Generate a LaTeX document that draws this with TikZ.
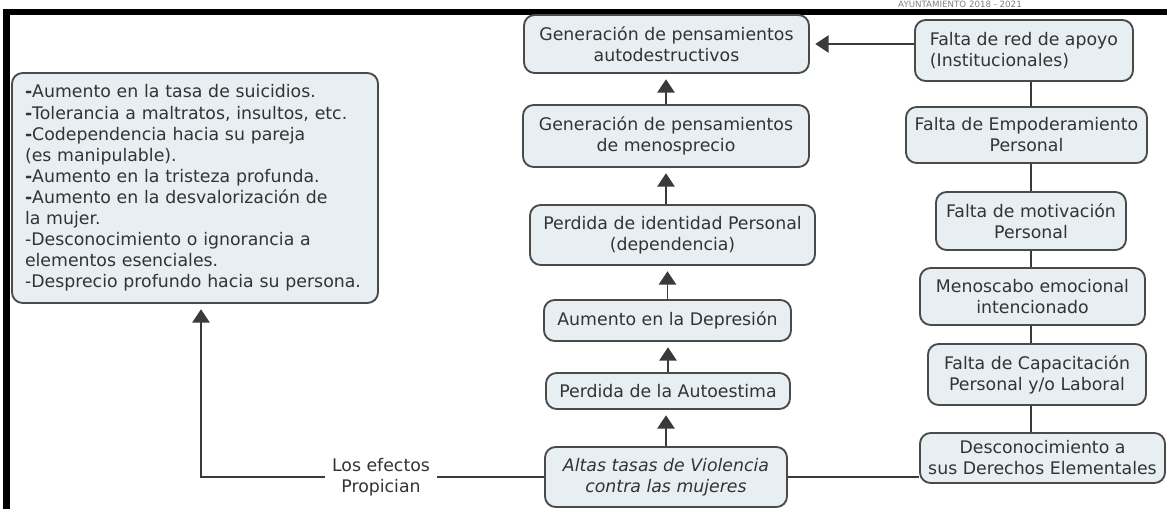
\documentclass[tikz,border=0pt]{standalone}
\usepackage{fontspec}
\setmainfont{DejaVu Sans}
\usetikzlibrary{arrows.meta}
\definecolor{boxfill}{HTML}{E8EFF2}
\definecolor{boxline}{HTML}{4A4A4A}
\definecolor{txt}{HTML}{333333}
\definecolor{connc}{HTML}{3A3A3A}
\newcommand{\bh}{{\bfseries -}}
\begin{document}
\begin{tikzpicture}[x=0.75pt,y=-0.75pt,
  cbox/.style={draw=boxline, line width=1.4pt, fill=boxfill, rounded corners=8pt,
    align=center, text=txt, font=\fontsize{13}{15.8}\selectfont, inner sep=0pt},
  sz/.style 2 args={minimum width=#1*0.75pt, minimum height=#2*0.75pt},
  conn/.style={draw=connc, line width=1.3pt},
  arr/.style={conn, -{Triangle[width=13pt,length=10pt]}, shorten >=4pt}]
\useasboundingbox (0,0) rectangle (1167,509);
% frame
\fill[black] (3,9) rectangle (1167,15);
\fill[black] (3,9) rectangle (10,509);
\node[font=\fontsize{6.5}{7}\selectfont, text=gray, inner sep=0pt] (hdr) at (960,4) {AYUNTAMIENTO 2018 - 2021};
% left box
\node[cbox, sz={366}{230}, align=left, text width=255pt, inner xsep=9.75pt] (L) at (195,188)
 {\bh Aumento en la tasa de suicidios.\\
  \bh Tolerancia a maltratos, insultos, etc.\\
  \bh Codependencia hacia su pareja\\
  (es manipulable).\\
  \bh Aumento en la tristeza profunda.\\
  \bh Aumento en la desvalorización de\\
  la mujer.\\
  -Desconocimiento o ignorancia a\\
  elementos esenciales.\\
  -Desprecio profundo hacia su persona.};
% center column
\node[cbox, sz={285}{58}] (b1) at (666.5,44) {Generación de pensamientos\\autodestructivos};
\node[cbox, sz={286}{62}] (b2) at (666,136) {Generación de pensamientos\\de menosprecio};
\node[cbox, sz={285}{60}] (b3) at (672.5,235) {Perdida de identidad Personal\\(dependencia)};
\node[cbox, sz={247}{41}] (b4) at (667.5,320.5) {Aumento en la Depresión};
\node[cbox, sz={244}{36}] (b5) at (668,391) {Perdida de la Autoestima};
\node[cbox, sz={242}{60}, font=\fontsize{13}{15.8}\selectfont\itshape] (b6) at (666,477) {Altas tasas de Violencia\\contra las mujeres};
% right column
\node[cbox, sz={218}{61}, align=left] (r1) at (1024,50.5) {Falta de red de apoyo\\(Institucionales)};
\node[cbox, sz={241}{56}] (r2) at (1026.5,135) {Falta de Empoderamiento\\Personal};
\node[cbox, sz={190}{58}] (r3) at (1031,221) {Falta de motivación\\Personal};
\node[cbox, sz={225}{57}] (r4) at (1032.5,296.5) {Menoscabo emocional\\intencionado};
\node[cbox, sz={218}{61}] (r5) at (1037,374.5) {Falta de Capacitación\\Personal y/o Laboral};
\node[cbox, sz={245}{50}] (r6) at (1042.5,458) {Desconocimiento a\\sus Derechos Elementales};
% label
\node[font=\fontsize{13}{15.8}\selectfont, text=txt, align=center, inner xsep=5pt] (lbl) at (381,477) {Los efectos\\Propician};
\coordinate (corner) at (201,477);
% connectors
\draw[arr] (r1.west |- b1.east) -- (b1.east);
\draw[arr] (b2.north) -- (b2.north |- b1.south);
\draw[arr] (b3.north -| b2.south) -- (b2.south);
\draw[arr] (b4.north) -- (b4.north |- b3.south);
\draw[arr] (b5.north) -- (b5.north |- b4.south);
\draw[arr] (b6.north) -- (b6.north |- b5.south);
\draw[conn] (r1.south -| r3) -- (r2.north -| r3);
\draw[conn] (r2.south -| r3) -- (r3.north);
\draw[conn] (r3.south) -- (r4.north -| r3);
\draw[conn] (r4.south -| r3) -- (r5.north -| r3);
\draw[conn] (r5.south -| r3) -- (r6.north -| r3);
\draw[conn] (b6.east) -- (b6.east -| r6.west);
\draw[conn] (b6.west) -- (lbl.east);
\draw[arr] (lbl.west) -- (corner) -- (corner |- L.south);
\end{tikzpicture}
\end{document}
